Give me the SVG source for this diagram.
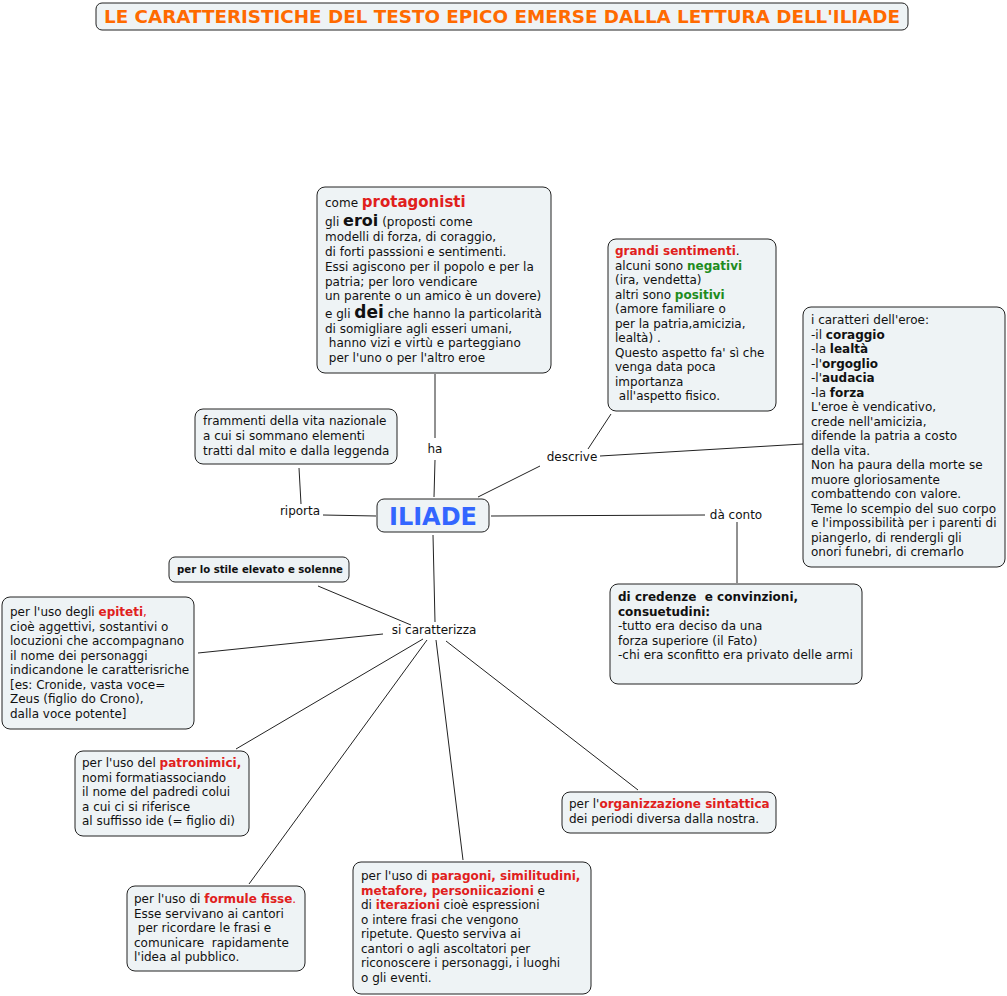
<svg xmlns="http://www.w3.org/2000/svg" width="1007" height="996" viewBox="0 0 1007 996">
<style>
.box{fill:#eef3f5;stroke:#222;stroke-width:1}
text{font-family:"DejaVu Sans",Verdana,sans-serif;font-size:12px;fill:#111;white-space:pre}
.b{font-weight:bold}
.r{font-weight:bold;fill:#e0201c}
.g{font-weight:bold;fill:#1e8c1e}
.lbl{text-anchor:middle}
.ln{stroke:#222;stroke-width:1;fill:none}
</style>
<rect width="1007" height="996" fill="#fff"/>
<g id="title">
<rect class="box" x="96" y="3" width="812" height="27" rx="6"/>
<text x="502" y="23" text-anchor="middle" textLength="796" lengthAdjust="spacingAndGlyphs" style="font-size:17px;font-weight:bold;fill:#ff6a00">LE CARATTERISTICHE DEL TESTO EPICO EMERSE DALLA LETTURA DELL'ILIADE</text>
</g>
<g id="connectors">
<path class="ln" d="M435,374 L435,438 M435,460 L434,497"/>
<path class="ln" d="M478,497 L540,466 M588,449 L611,414 M600,456 L803,444"/>
<path class="ln" d="M299,468 L301,504 M323,515 L376,516"/>
<path class="ln" d="M491,516 L705,515 M737,522 L737,583"/>
<path class="ln" d="M433,535 L435,622"/>
<path class="ln" d="M318,586 L411,625 M198,653 L383,634 M236,749 L423,639 M249,884 L427,640 M463,860 L436,640 M638,790 L446,641"/>
</g>
<g id="labels">
<text class="lbl" x="435" y="453">ha</text>
<text class="lbl" x="572" y="461">descrive</text>
<text class="lbl" x="300" y="515">riporta</text>
<text class="lbl" x="736" y="519">dà conto</text>
<text class="lbl" x="434" y="634">si caratterizza</text>
</g>
<g id="protagonisti">
<rect class="box" x="317" y="187" width="234" height="186" rx="8"/>
<text x="325" y="207">come <tspan class="r" style="font-size:15px">protagonisti</tspan></text>
<text x="325" y="226">gli <tspan class="b" style="font-size:16px">eroi</tspan> (proposti come</text>
<text x="325" y="241">modelli di forza, di coraggio,</text>
<text x="325" y="256">di forti passsioni e sentimenti.</text>
<text x="325" y="271">Essi agiscono per il popolo e per la</text>
<text x="325" y="286">patria; per loro vendicare</text>
<text x="325" y="300">un parente o un amico è un dovere)</text>
<text x="325" y="318">e gli <tspan class="b" style="font-size:17px">dei</tspan> che hanno la particolarità</text>
<text x="325" y="333">di somigliare agli esseri umani,</text>
<text x="325" y="347"> hanno vizi e virtù e parteggiano</text>
<text x="325" y="362"> per l'uno o per l'altro eroe</text>
</g>
<g id="sentimenti">
<rect class="box" x="608" y="239" width="168" height="172" rx="8"/>
<text x="615" y="255"><tspan class="r">grandi sentimenti</tspan>.</text>
<text x="615" y="270">alcuni sono <tspan class="g">negativi</tspan></text>
<text x="615" y="284">(ira, vendetta)</text>
<text x="615" y="299">altri sono <tspan class="g">positivi</tspan></text>
<text x="615" y="313">(amore familiare o</text>
<text x="615" y="328">per la patria,amicizia,</text>
<text x="615" y="342">lealtà) .</text>
<text x="615" y="357">Questo aspetto fa' sì che</text>
<text x="615" y="371">venga data poca</text>
<text x="615" y="386">importanza</text>
<text x="615" y="400"> all'aspetto fisico.</text>
</g>
<g id="caratteri">
<rect class="box" x="803" y="307" width="202" height="260" rx="8"/>
<text x="811" y="324">i caratteri dell'eroe:</text>
<text x="811" y="339">-il <tspan class="b">coraggio</tspan></text>
<text x="811" y="353">-la <tspan class="b">lealtà</tspan></text>
<text x="811" y="368">-l'<tspan class="b">orgoglio</tspan></text>
<text x="811" y="382">-l'<tspan class="b">audacia</tspan></text>
<text x="811" y="397">-la <tspan class="b">forza</tspan></text>
<text x="811" y="411">L'eroe è vendicativo,</text>
<text x="811" y="426">crede nell'amicizia,</text>
<text x="811" y="440">difende la patria a costo</text>
<text x="811" y="455">della vita.</text>
<text x="811" y="469">Non ha paura della morte se</text>
<text x="811" y="484">muore gloriosamente</text>
<text x="811" y="498">combattendo con valore.</text>
<text x="811" y="513">Teme lo scempio del suo corpo</text>
<text x="811" y="527">e l'impossibilità per i parenti di</text>
<text x="811" y="542">piangerlo, di rendergli gli</text>
<text x="811" y="556">onori funebri, di cremarlo</text>
</g>
<g id="frammenti">
<rect class="box" x="195" y="409" width="202" height="55" rx="8"/>
<text x="203" y="425">frammenti della vita nazionale</text>
<text x="203" y="440">a cui si sommano elementi</text>
<text x="203" y="455">tratti dal mito e dalla leggenda</text>
</g>
<g id="iliade">
<rect class="box" x="377" y="499" width="112" height="33" rx="7"/>
<text x="433" y="525" text-anchor="middle" style="font-size:24px;font-weight:bold;fill:#3366ff">ILIADE</text>
</g>
<g id="credenze">
<rect class="box" x="610" y="584" width="252" height="100" rx="8"/>
<text x="618" y="601" class="b">di credenze  e convinzioni,</text>
<text x="618" y="616" class="b">consuetudini:</text>
<text x="618" y="630">-tutto era deciso da una</text>
<text x="618" y="645">forza superiore (il Fato)</text>
<text x="618" y="659">-chi era sconfitto era privato delle armi</text>
</g>
<g id="stile">
<rect class="box" x="169" y="557" width="180" height="25" rx="6"/>
<text x="177" y="573" class="b" style="font-size:11px" textLength="166" lengthAdjust="spacingAndGlyphs">per lo stile elevato e solenne</text>
</g>
<g id="epiteti">
<rect class="box" x="2" y="597" width="192" height="132" rx="8"/>
<text x="10" y="616">per l'uso degli <tspan class="r">epiteti</tspan><tspan fill="#e0201c">,</tspan></text>
<text x="10" y="631">cioè aggettivi, sostantivi o</text>
<text x="10" y="645">locuzioni che accompagnano</text>
<text x="10" y="660">il nome dei personaggi</text>
<text x="10" y="674">indicandone le caratterisriche</text>
<text x="10" y="689">[es: Cronide, vasta voce=</text>
<text x="10" y="703">Zeus (figlio do Crono),</text>
<text x="10" y="718">dalla voce potente]</text>
</g>
<g id="patronimici">
<rect class="box" x="75" y="751" width="174" height="85" rx="8"/>
<text x="82" y="767">per l'uso del <tspan class="r">patronimici,</tspan></text>
<text x="82" y="782">nomi formatiassociando</text>
<text x="82" y="796">il nome del padredi colui</text>
<text x="82" y="811">a cui ci si riferisce</text>
<text x="82" y="825">al suffisso ide (= figlio di)</text>
</g>
<g id="organizzazione">
<rect class="box" x="562" y="792" width="214" height="41" rx="8"/>
<text x="569" y="808">per l'<tspan class="r">organizzazione sintattica</tspan></text>
<text x="569" y="823">dei periodi diversa dalla nostra.</text>
</g>
<g id="formule">
<rect class="box" x="127" y="886" width="178" height="85" rx="8"/>
<text x="134" y="903">per l'uso di <tspan class="r">formule fisse</tspan><tspan fill="#e0201c">.</tspan></text>
<text x="134" y="918">Esse servivano ai cantori</text>
<text x="134" y="932"> per ricordare le frasi e</text>
<text x="134" y="947">comunicare  rapidamente</text>
<text x="134" y="961">l'idea al pubblico.</text>
</g>
<g id="paragoni">
<rect class="box" x="353" y="862" width="238" height="132" rx="8"/>
<text x="361" y="880">per l'uso di <tspan class="r">paragoni, similitudini,</tspan></text>
<text x="361" y="895"><tspan class="r">metafore, personiicazioni</tspan> e</text>
<text x="361" y="909">di <tspan class="r">iterazioni</tspan> cioè espressioni</text>
<text x="361" y="924">o intere frasi che vengono</text>
<text x="361" y="938">ripetute. Questo serviva ai</text>
<text x="361" y="953">cantori o agli ascoltatori per</text>
<text x="361" y="967">riconoscere i personaggi, i luoghi</text>
<text x="361" y="982">o gli eventi.</text>
</g>
</svg>
